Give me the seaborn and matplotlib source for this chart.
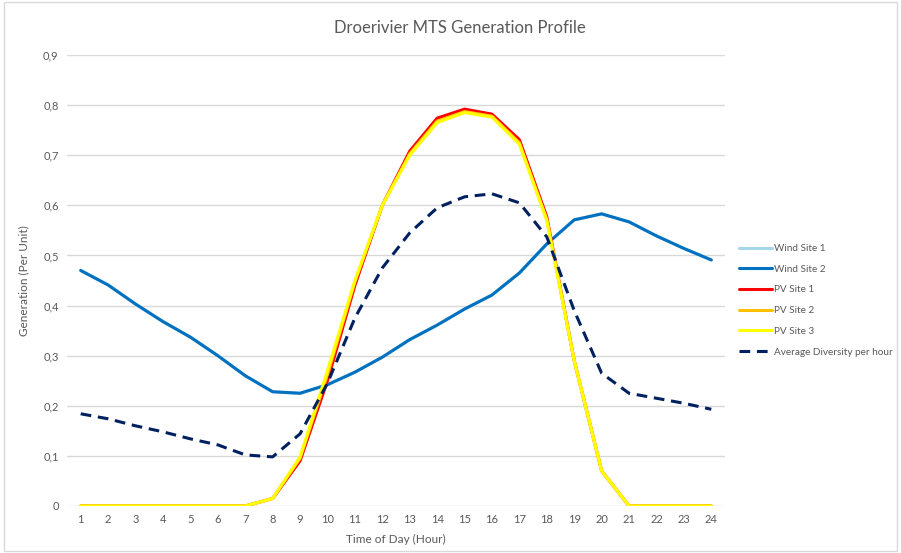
import pandas as pd
import numpy as np
import matplotlib
matplotlib.use('Agg')
import matplotlib.pyplot as plt
import seaborn as sns
from matplotlib.patches import Rectangle

# данные
hours = list(range(1, 25))
wind_site_2 = [0.470, 0.441, 0.403, 0.368, 0.337, 0.300, 0.260, 0.228, 0.225, 0.242,
               0.267, 0.297, 0.332, 0.361, 0.393, 0.421, 0.465, 0.523, 0.571, 0.583,
               0.567, 0.539, 0.514, 0.491]
wind_site_1 = list(wind_site_2)  # полностью перекрыт линией Wind Site 2
pv_site_1 = [0, 0, 0, 0, 0, 0, 0, 0.015, 0.090, 0.250, 0.440, 0.600, 0.708, 0.774,
             0.792, 0.782, 0.731, 0.577, 0.290, 0.070, 0, 0, 0, 0]
pv_site_2 = [0, 0, 0, 0, 0, 0, 0, 0.015, 0.095, 0.262, 0.447, 0.600, 0.703, 0.768,
             0.787, 0.778, 0.725, 0.572, 0.290, 0.070, 0, 0, 0, 0]
pv_site_3 = [0, 0, 0, 0, 0, 0, 0, 0.015, 0.098, 0.270, 0.450, 0.600, 0.700, 0.765,
             0.785, 0.776, 0.722, 0.570, 0.290, 0.070, 0, 0, 0, 0]
avg_diversity = [0.184, 0.174, 0.160, 0.148, 0.134, 0.122, 0.102, 0.098, 0.144, 0.245,
                 0.375, 0.475, 0.545, 0.595, 0.617, 0.623, 0.605, 0.537, 0.390, 0.265,
                 0.225, 0.215, 0.205, 0.193]

series_names = ['Wind Site 1', 'Wind Site 2', 'PV Site 1', 'PV Site 2', 'PV Site 3',
                'Average Diversity per hour']
series_values = [wind_site_1, wind_site_2, pv_site_1, pv_site_2, pv_site_3, avg_diversity]
series_colors = ['#A5D8E6', '#0070C0', '#FF0000', '#FFC000', '#FFFF00', '#002060']

y_ticks = [0, 0.1, 0.2, 0.3, 0.4, 0.5, 0.6, 0.7, 0.8, 0.9]
y_tick_labels = ['0', '0,1', '0,2', '0,3', '0,4', '0,5', '0,6', '0,7', '0,8', '0,9']

sns.set_theme(style='white')
plt.rcParams['font.family'] = ['Lato', 'DejaVu Sans']

fig = plt.figure(figsize=(9.01, 5.53), dpi=100)
ax = fig.add_axes([67 / 901, 1 - 506 / 553, 658 / 901, 451 / 553])

for name, vals, col in zip(series_names, series_values, series_colors):
    df = pd.DataFrame({'hour': hours, 'value': vals})
    dashed = name.startswith('Average')
    sns.lineplot(data=df, x='hour', y='value', ax=ax, color=col, label=name,
                 linewidth=2.2, linestyle='--' if dashed else '-',
                 dashes=False, zorder=3)
    if dashed:
        ax.lines[-1].set_dashes((3.5, 2.2))

ax.set_xlim(0.5, 24.5)
ax.set_ylim(0, 0.9)
ax.set_xticks(hours)
ax.set_xticklabels([str(h) for h in hours], color='#595959', fontsize=8)
ax.set_yticks(y_ticks)
ax.set_yticklabels(y_tick_labels, color='#595959', fontsize=8)
ax.tick_params(axis='both', length=0, pad=6)
ax.grid(axis='y', color='#D9D9D9', linewidth=1)
ax.set_axisbelow(True)
for s in ax.spines.values():
    s.set_visible(False)

ax.set_xlabel('Time of Day (Hour)', color='#595959', fontsize=8.5, labelpad=6)
ax.set_ylabel('Generation (Per Unit)', color='#595959', fontsize=8.5, labelpad=10)
fig.text(460 / 901, 1 - 28 / 553, 'Droerivier MTS Generation Profile', ha='center',
         va='center', color='#595959', fontsize=12)

leg = ax.legend(loc='center left', bbox_to_anchor=(1.01, 0.456), frameon=False,
                fontsize=7.2, handlelength=3.3, handletextpad=0.25, labelspacing=1.17,
                borderpad=0.2)
for t in leg.get_texts():
    t.set_color('#595959')

fig.patches.append(Rectangle((0.004, 0.004), 0.992, 0.992, transform=fig.transFigure,
                             fill=False, edgecolor='#D9D9D9', linewidth=1))

fig.savefig('out.png', dpi=100)
